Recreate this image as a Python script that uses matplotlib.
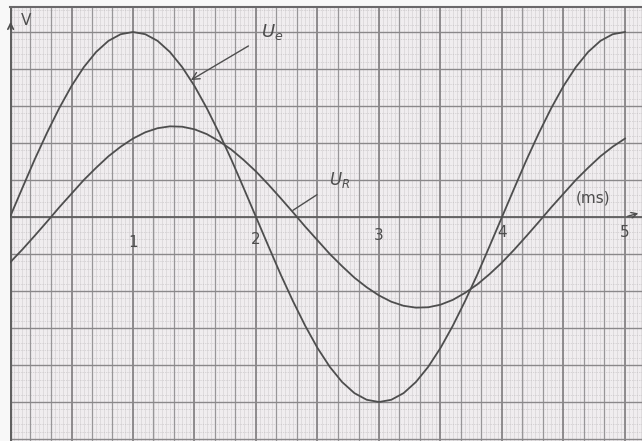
import numpy as np
import matplotlib
matplotlib.use('Agg')
import matplotlib.pyplot as plt
from matplotlib.ticker import MultipleLocator

# time in ms, readings taken every 0.1 ms off the scanned sheet
t = [round(0.1 * i, 1) for i in range(51)]

u_e = [0.00, 0.78, 1.55, 2.27, 2.94, 3.54, 4.05, 4.46, 4.76, 4.94, 5.00,
       4.94, 4.76, 4.46, 4.05, 3.54, 2.94, 2.27, 1.55, 0.78, 0.00,
       -0.78, -1.55, -2.27, -2.94, -3.54, -4.05, -4.46, -4.76, -4.94, -5.00,
       -4.94, -4.76, -4.46, -4.05, -3.54, -2.94, -2.27, -1.55, -0.78, 0.00,
       0.78, 1.55, 2.27, 2.94, 3.54, 4.05, 4.46, 4.76, 4.94, 5.00]

u_r = [-1.23, -0.88, -0.51, -0.13, 0.26, 0.63, 1.00, 1.33, 1.64, 1.90, 2.12,
       2.29, 2.40, 2.45, 2.44, 2.37, 2.24, 2.05, 1.82, 1.54, 1.23,
       0.88, 0.51, 0.13, -0.26, -0.63, -1.00, -1.33, -1.64, -1.90, -2.12,
       -2.29, -2.40, -2.45, -2.44, -2.37, -2.24, -2.05, -1.82, -1.54, -1.23,
       -0.88, -0.51, -0.13, 0.26, 0.63, 1.00, 1.33, 1.64, 1.90, 2.12]

tick_vals = [1, 2, 3, 4, 5]
tick_y = [-0.70, -0.62, -0.51, -0.42, -0.42]

ink = '#4e4e4e'
paper = '#f0edef'

fig = plt.figure(figsize=(6.42, 4.41), dpi=100, facecolor='#f8f8f8')
ax = fig.add_axes([10 / 642, 0, 632 / 642, 434 / 441])
ax.set_facecolor(paper)
ax.set_xlim(0, 632 / 123)
ax.set_ylim(-224 / 37, 210 / 37)

# graph paper: fine lines first, then the heavier ones
for x in np.arange(0, 5.2, 1 / 30):
    ax.axvline(x, color='#d0cdcf', lw=0.4, zorder=0)
for y in np.arange(-6, 6, 0.2):
    ax.axhline(y, color='#bdbabc', lw=0.5, ls=(0, (1, 1.5)), zorder=0)
ax.xaxis.set_major_locator(MultipleLocator(0.5))
ax.xaxis.set_minor_locator(MultipleLocator(1 / 6))
ax.yaxis.set_major_locator(MultipleLocator(1))
ax.grid(which='minor', axis='x', color='#989698', lw=0.9, zorder=1)
ax.grid(which='major', axis='x', color='#7e7c7e', lw=1.2, zorder=1)
ax.grid(which='major', axis='y', color='#8a888a', lw=1.0, zorder=1)
ax.set_axisbelow(True)
ax.tick_params(which='both', length=0, labelbottom=False, labelleft=False)
for s in ['left', 'bottom', 'right']:
    ax.spines[s].set_visible(False)
ax.spines['top'].set_color('#6a686a')
ax.spines['top'].set_linewidth(1.5)

# axes drawn by hand on the sheet
ax.axhline(0, color='#606060', lw=1.3, zorder=2)
ax.axvline(0.005, color='#606060', lw=1.6, zorder=2)
ax.annotate('', xy=(5.13, 0.12), xytext=(5.0, 0.0),
            arrowprops=dict(arrowstyle='->', color=ink, lw=1.0))
ax.annotate('', xy=(0.005, 5.35), xytext=(0.005, 5.0),
            arrowprops=dict(arrowstyle='->', color=ink, lw=1.2))

ax.plot(t, u_e, color=ink, lw=1.3, zorder=3)
ax.plot(t, u_r, color=ink, lw=1.3, zorder=3)

for v, y in zip(tick_vals, tick_y):
    ax.text(v, y, str(v), color=ink, fontsize=11, ha='center', va='center')

ax.text(0.13, 5.3, 'V', color=ink, fontsize=11, ha='center', va='center')
ax.annotate('$U_e$', xy=(1.47, 3.7), xytext=(2.13, 5.0), color=ink, fontsize=13,
            ha='center', va='center',
            arrowprops=dict(arrowstyle='->', color=ink, lw=1.0, shrinkA=8, shrinkB=0))
ax.annotate('$U_R$', xy=(2.3, 0.18), xytext=(2.68, 1.0), color=ink, fontsize=12,
            ha='center', va='center',
            arrowprops=dict(arrowstyle='-', color=ink, lw=1.0, shrinkA=8, shrinkB=0))
ax.text(4.6, 0.52, '(ms)', color=ink, fontsize=11, ha='left', va='center')

fig.savefig('out.png', dpi=100, facecolor=fig.get_facecolor())
